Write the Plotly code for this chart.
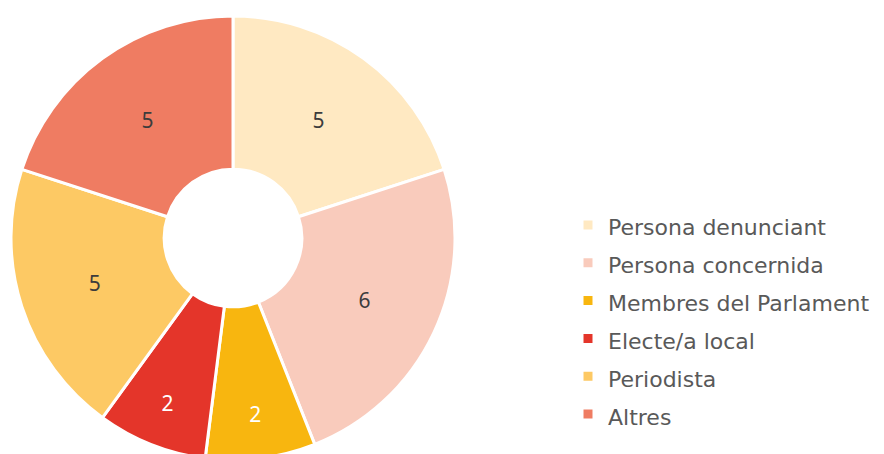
import plotly.graph_objects as go

labels = ["Persona denunciant", "Persona concernida", "Membres del Parlament",
          "Electe/a local", "Periodista", "Altres"]
values = [5, 6, 2, 2, 5, 5]
colors = ["#FFE9C2", "#F9CBBC", "#F8B60F", "#E4352A", "#FDC964", "#EF7C62"]
text_colors = ["#3c3c3c", "#3c3c3c", "#ffffff", "#ffffff", "#3c3c3c", "#3c3c3c"]

W, H = 884, 476

# legend rows are taller than the text: big legend font, smaller span inside
legend_labels = [f"<span style='font-size:22px'>{l}</span>" for l in labels]

fig = go.Figure(go.Pie(
    labels=legend_labels,
    values=values,
    sort=False,
    direction="clockwise",
    rotation=0,
    hole=0.31,
    marker=dict(colors=colors, line=dict(color="white", width=3)),
    textinfo="value",
    textposition="inside",
    insidetextorientation="horizontal",
    textfont=dict(size=21, color=text_colors, family="Noto Sans"),
    domain=dict(x=[11 / W, 455 / W], y=[0, 1]),
    hoverinfo="value",
))

fig.update_layout(
    width=W, height=H,
    margin=dict(l=0, r=0, t=16, b=16),
    paper_bgcolor="white",
    font=dict(family="DejaVu Sans", color="#595959"),
    showlegend=True,
    legend=dict(
        x=568 / W, xanchor="left",
        y=1 - (201 - 16) / 444, yanchor="top",
        font=dict(size=26.8, color="#595959", family="DejaVu Sans"),
        bgcolor="rgba(0,0,0,0)",
    ),
)

fig.write_html("out.html", config={"displayModeBar": False},
               post_script="document.body.style.overflow='hidden';document.body.style.margin='0';")
